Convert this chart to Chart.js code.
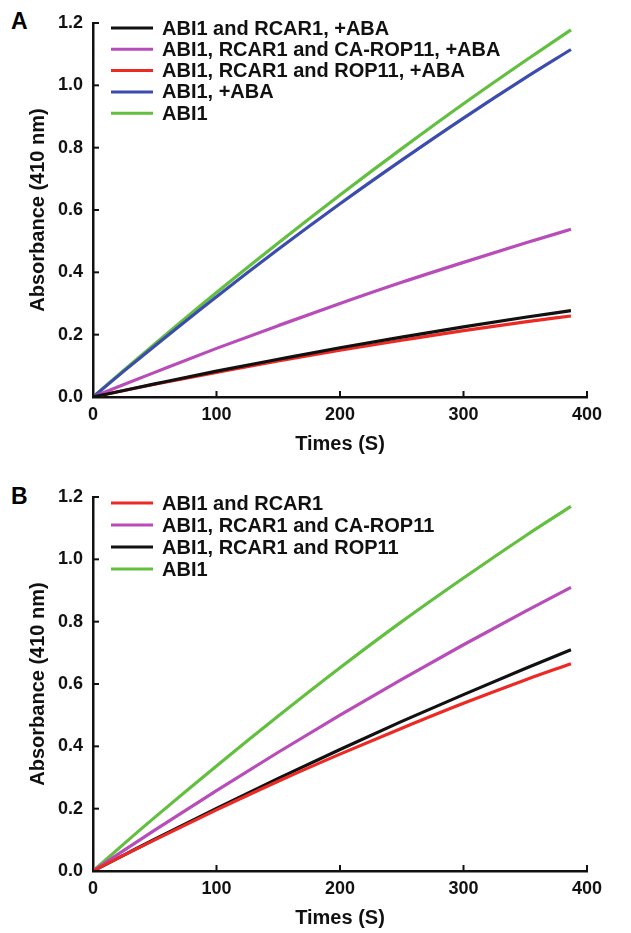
<!DOCTYPE html>
<html>
<head>
<meta charset="utf-8">
<script src="https://cdn.jsdelivr.net/npm/chart.js@4.4.1/dist/chart.umd.min.js"></script>
<style>
  html, body { margin: 0; padding: 0; background: #fff; }
  body { width: 631px; height: 933px; position: relative; overflow: hidden; }
  .panel { position: absolute; left: 0; width: 631px; height: 459px; }
  .tag { position: absolute; font-family: "Liberation Sans", Arial, sans-serif; font-weight: bold; font-size: 23px; line-height: 1; }
</style>
</head>
<body>
<div class="tag" style="left:11px; top:10px;">A</div>
<div class="tag" style="left:11px; top:485px;">B</div>
<div class="panel" style="top:0px;"><canvas id="chartA" width="631" height="459"></canvas></div>
<div class="panel" style="top:474px;"><canvas id="chartB" width="631" height="459"></canvas></div>
<script>
// ---- data ----
const times = [0, 25, 50, 100, 150, 200, 250, 300, 350, 387];

const labelsA = [
  "ABI1 and RCAR1, +ABA",
  "ABI1, RCAR1 and CA-ROP11, +ABA",
  "ABI1, RCAR1 and ROP11, +ABA",
  "ABI1, +ABA",
  "ABI1"
];
const colorsA = ["#111111", "#b84cb8", "#ec2a23", "#3b4cae", "#63bf3f"];
const a_rcar1_aba   = [0, 0.021, 0.042, 0.083, 0.121, 0.158, 0.192, 0.225, 0.256, 0.277];
const a_caRop11_aba = [0, 0.040, 0.079, 0.156, 0.229, 0.300, 0.368, 0.432, 0.494, 0.538];
const a_rop11_aba   = [0, 0.021, 0.041, 0.079, 0.116, 0.150, 0.182, 0.213, 0.241, 0.260];
const a_abi1_aba    = [0, 0.083, 0.164, 0.322, 0.474, 0.620, 0.760, 0.895, 1.024, 1.115];
const a_abi1        = [0, 0.086, 0.170, 0.335, 0.494, 0.648, 0.797, 0.941, 1.079, 1.178];

const labelsB = [
  "ABI1 and RCAR1",
  "ABI1, RCAR1 and CA-ROP11",
  "ABI1, RCAR1 and ROP11",
  "ABI1"
];
const colorsB = ["#ec2a23", "#b84cb8", "#111111", "#63bf3f"];
const b_rcar1   = [0, 0.051, 0.100, 0.196, 0.288, 0.375, 0.458, 0.538, 0.613, 0.665];
const b_caRop11 = [0, 0.066, 0.131, 0.258, 0.381, 0.500, 0.615, 0.726, 0.833, 0.910];
const b_rop11   = [0, 0.051, 0.102, 0.201, 0.297, 0.390, 0.480, 0.566, 0.650, 0.710];
const b_abi1    = [0, 0.087, 0.172, 0.337, 0.497, 0.652, 0.800, 0.940, 1.075, 1.170];

const xTicks = [0, 100, 200, 300, 400];
const yTicks = [0, 0.2, 0.4, 0.6, 0.8, 1.0, 1.2];

// ---- setup ----
const FONT = '"Liberation Sans", Arial, Helvetica, sans-serif';
Chart.defaults.font.family = FONT;
Chart.defaults.font.weight = 'bold';
Chart.defaults.color = '#111';

const deco = {
  id: 'deco',
  afterDraw(chart, args, opts) {
    const ctx = chart.ctx;
    const xs = chart.scales.x, ys = chart.scales.y;
    ctx.save();
    ctx.strokeStyle = '#111';
    ctx.lineWidth = 2;
    xTicks.forEach(v => {
      const px = xs.getPixelForValue(v);
      ctx.beginPath(); ctx.moveTo(px, ys.bottom); ctx.lineTo(px, ys.bottom - 6); ctx.stroke();
    });
    yTicks.forEach(v => {
      const py = ys.getPixelForValue(v);
      ctx.beginPath(); ctx.moveTo(xs.left, py); ctx.lineTo(xs.left + 6, py); ctx.stroke();
    });
    const ca = chart.chartArea;
    ctx.font = 'bold ' + opts.size + 'px ' + FONT;
    ctx.textBaseline = 'middle';
    ctx.textAlign = 'left';
    chart.data.datasets.forEach((ds, i) => {
      const y = ca.top + opts.dy + i * opts.rowH;
      ctx.strokeStyle = ds.borderColor;
      ctx.lineWidth = 3;
      ctx.beginPath(); ctx.moveTo(ca.left + 18, y); ctx.lineTo(ca.left + 60, y); ctx.stroke();
      ctx.fillStyle = '#111';
      ctx.fillText(ds.label, ca.left + 69, y + 1);
    });
    ctx.restore();
  }
};

function makeChart(id, labels, colors, series, legendOpts) {
  const datasets = series.map((s, i) => ({
    label: labels[i],
    data: times.map((t, k) => ({ x: t, y: s[k] })),
    borderColor: colors[i],
    backgroundColor: colors[i],
    borderWidth: 3.2,
    pointRadius: 0,
    cubicInterpolationMode: 'monotone',
    fill: false
  }));
  return new Chart(document.getElementById(id), {
    type: 'line',
    data: { datasets },
    plugins: [deco],
    options: {
      responsive: false,
      animation: false,
      devicePixelRatio: 1,
      layout: { padding: { top: 23, right: 44, left: 0, bottom: 0 } },
      plugins: {
        legend: { display: false },
        tooltip: { enabled: false },
        deco: legendOpts
      },
      scales: {
        x: {
          type: 'linear', min: 0, max: 400,
          afterBuildTicks: s => { s.ticks = xTicks.map(v => ({ value: v })); },
          afterFit: s => { s.height = 62; },
          ticks: { padding: 7, font: { size: 18, weight: 'bold' }, color: '#111', maxRotation: 0 },
          grid: { display: true, drawOnChartArea: false, drawTicks: false },
          border: { display: true, color: '#111', width: 2.5 },
          title: { display: true, text: 'Times (S)', font: { size: 20, weight: 'bold' }, color: '#111', padding: { top: 0, bottom: 3 } }
        },
        y: {
          type: 'linear', min: 0, max: 1.2,
          afterBuildTicks: s => { s.ticks = yTicks.map(v => ({ value: v })); },
          afterFit: s => { s.width = 93; },
          ticks: { padding: 10, font: { size: 18, weight: 'bold' }, color: '#111', callback: v => Number(v).toFixed(1) },
          grid: { display: true, drawOnChartArea: false, drawTicks: false },
          border: { display: true, color: '#111', width: 2.5 },
          title: { display: true, text: 'Absorbance (410 nm)', font: { size: 20, weight: 'bold' }, color: '#111', padding: { top: 26, bottom: 0 } }
        }
      }
    }
  });
}

makeChart('chartA', labelsA, colorsA,
  [a_rcar1_aba, a_caRop11_aba, a_rop11_aba, a_abi1_aba, a_abi1],
  { dy: 5, rowH: 21.3, size: 20 });
makeChart('chartB', labelsB, colorsB,
  [b_rcar1, b_caRop11, b_rop11, b_abi1],
  { dy: 6, rowH: 22, size: 20 });
</script>
</body>
</html>
